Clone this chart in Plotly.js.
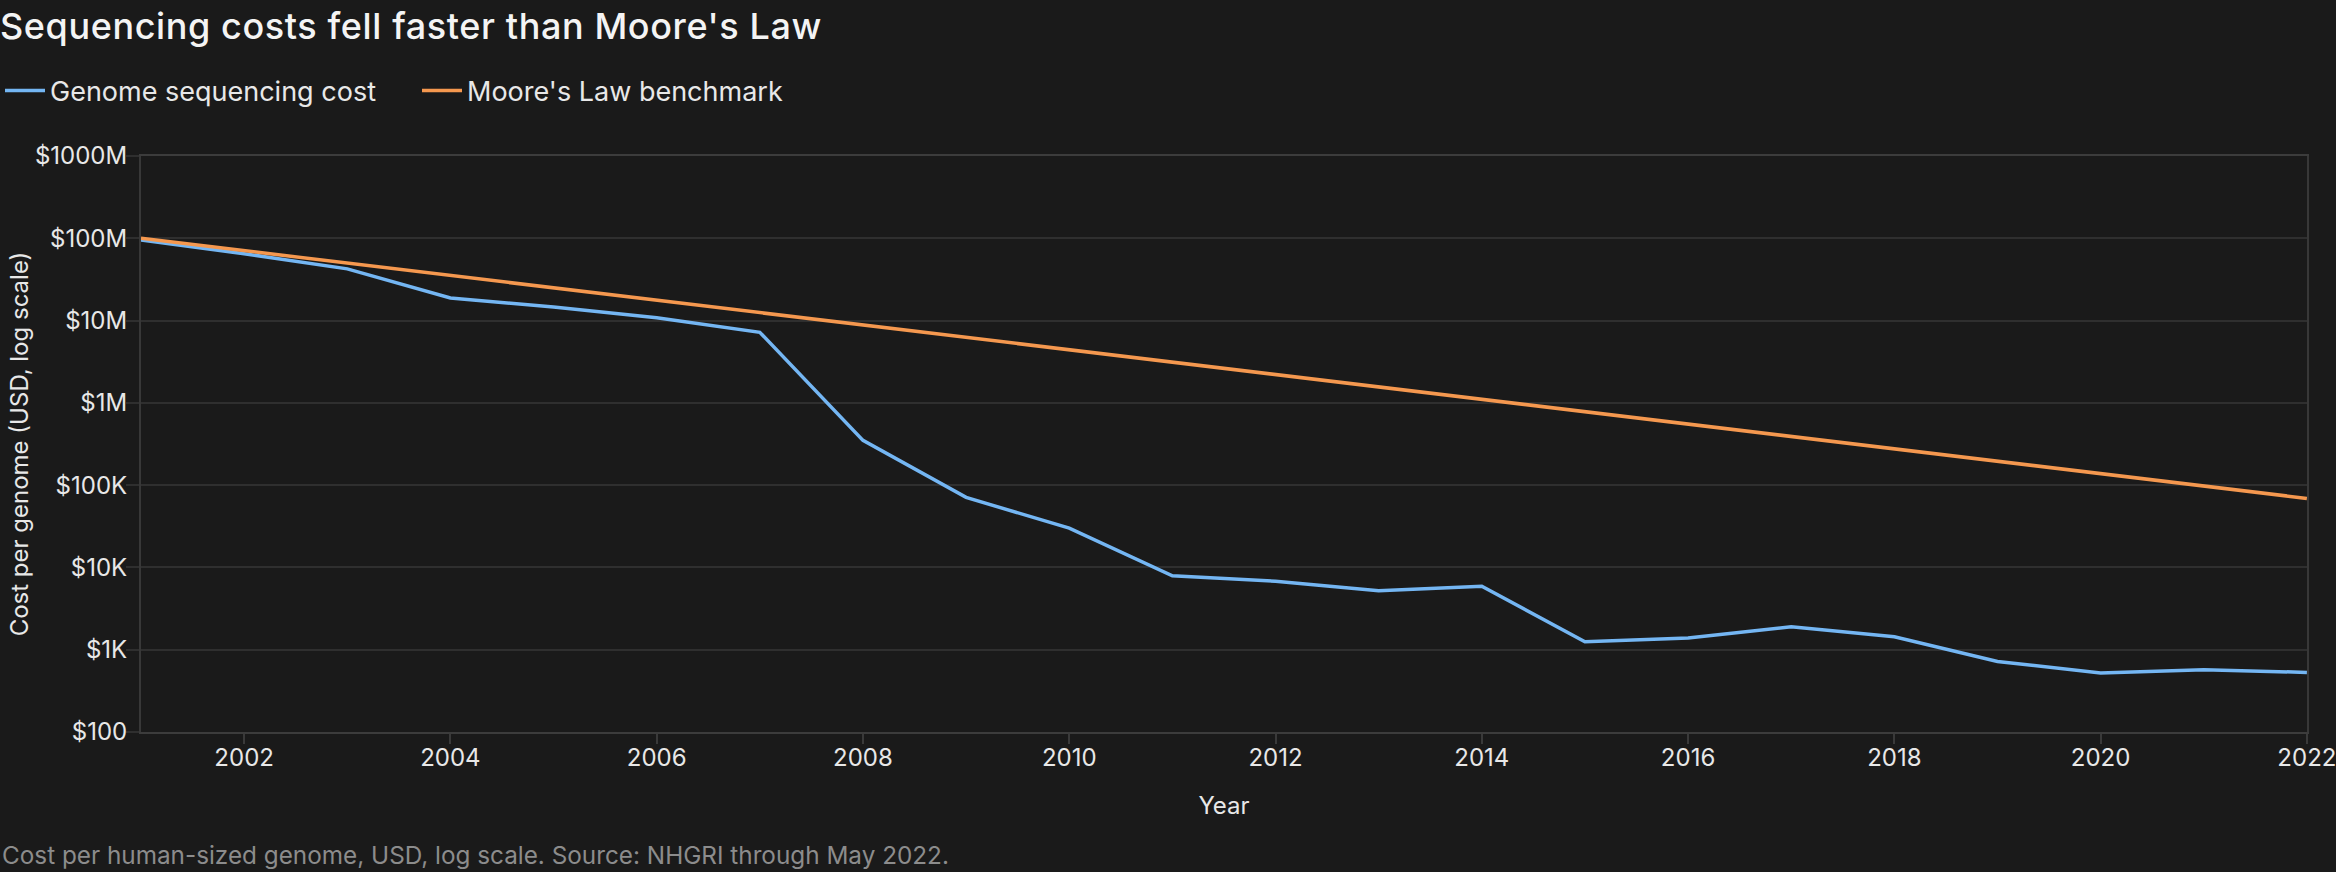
<!DOCTYPE html>
<html>
<head>
<meta charset="utf-8">
<script src="https://cdn.plot.ly/plotly-3.0.1.min.js"></script>
<style>
  html, body { margin: 0; padding: 0; background: #1a1a1a; }
  #chart { width: 2336px; height: 872px; }
  #chart .gtitle { letter-spacing: 0.6px; }
</style>
</head>
<body>
<div id="chart"></div>
<script>
const years = [2001, 2002, 2003, 2004, 2005, 2006, 2007, 2008, 2009, 2010, 2011,
  2012, 2013, 2014, 2015, 2016, 2017, 2018, 2019, 2020, 2021, 2022];

// NHGRI cost per genome (USD)
const genomeCost = [95300000, 65000000, 42500000, 18800000, 14600000, 10800000, 7200000,
  350000, 71000, 30000, 7900, 6800, 5200, 5900, 1250,
  1390, 1900, 1440, 720, 520, 570, 530];

// Moore's Law benchmark (USD)
const mooreCost = [100000000, 70700000, 50000000, 35400000, 25000000, 17700000, 12500000,
  8840000, 6250000, 4420000, 3130000, 2210000, 1560000, 1100000, 781000,
  552000, 391000, 276000, 195000, 138000, 97700, 69000];

const yTickVals = [100, 1000, 10000, 100000, 1000000, 10000000, 100000000, 1000000000];
const yTickText = ['$100', '$1K', '$10K', '$100K', '$1M', '$10M', '$100M', '$1000M'];
const xTickVals = [2002, 2004, 2006, 2008, 2010, 2012, 2014, 2016, 2018, 2020, 2022];

const W = 2336, H = 872;
const margin = { l: 141, r: 29, t: 156, b: 140 };
const plotW = W - margin.l - margin.r;
const plotH = H - margin.t - margin.b;

const font = 'Inter, "Liberation Sans", Arial, sans-serif';
const grid = '#2f2f2f';

const data = [
  {
    x: years, y: genomeCost, name: 'Genome sequencing cost',
    type: 'scatter', mode: 'lines',
    line: { color: '#74b6f3', width: 3.5 },
  },
  {
    x: years, y: mooreCost, name: "Moore's Law benchmark",
    type: 'scatter', mode: 'lines',
    line: { color: '#f5984f', width: 3.5 },
  },
];

const layout = {
  width: W, height: H,
  margin: margin,
  paper_bgcolor: '#1a1a1a',
  plot_bgcolor: '#1a1a1a',
  font: { family: font, color: '#e8e8e8', size: 24 },
  title: {
    text: "Sequencing costs fell faster than Moore's Law",
    font: { family: font, size: 36, color: '#f4f4f4', weight: 500 },
    xref: 'container', x: 0, xanchor: 'left',
    yref: 'container', y: 1 - 26 / H, yanchor: 'middle',
  },
  showlegend: true,
  legend: {
    orientation: 'h',
    xref: 'container', x: -7 / W, xanchor: 'left',
    yref: 'container', y: 1 - 91 / H, yanchor: 'middle',
    font: { family: font, size: 27, color: '#e8e8e8' },
    bgcolor: 'rgba(0,0,0,0)',
    itemwidth: 40,
    entrywidth: 362,
  },
  xaxis: {
    type: 'linear',
    range: [2001, 2022.001],
    tickvals: xTickVals,
    ticktext: xTickVals.map(String),
    showgrid: false,
    zeroline: false,
    showline: true, mirror: true, linecolor: '#3c3c3c', linewidth: 2,
    ticks: 'outside', ticklen: 10, tickwidth: 2, tickcolor: '#3a3a3a',
    ticklabeloverflow: 'allow',
    ticklabelstandoff: -7,
    tickfont: { family: font, size: 24, color: '#e8e8e8' },
    title: { text: 'Year', font: { family: font, size: 24, color: '#e8e8e8' }, standoff: 26 },
  },
  yaxis: {
    type: 'log',
    range: [2, 9],
    tickvals: yTickVals,
    ticktext: yTickText,
    showgrid: true, gridcolor: grid, gridwidth: 2,
    zeroline: false,
    showline: true, mirror: true, linecolor: '#383838', linewidth: 2,
    ticks: 'outside', ticklen: 13, tickwidth: 2, tickcolor: grid,
    ticklabelstandoff: -6,
    tickfont: { family: font, size: 24, color: '#e8e8e8' },
    title: { text: 'Cost per genome (USD, log scale)', font: { family: font, size: 24, color: '#e8e8e8' }, standoff: 0 },
  },
  annotations: [
    {
      text: 'Cost per human-sized genome, USD, log scale. Source: NHGRI through May 2022.',
      xref: 'paper', yref: 'paper',
      x: (0 - margin.l) / plotW, xanchor: 'left',
      y: (H - margin.b - 855) / plotH, yanchor: 'middle',
      showarrow: false,
      font: { family: font, size: 24.3, color: '#8c8c8c' },
    },
  ],
};

Plotly.newPlot('chart', data, layout, { displayModeBar: false, staticPlot: true });
</script>
</body>
</html>
